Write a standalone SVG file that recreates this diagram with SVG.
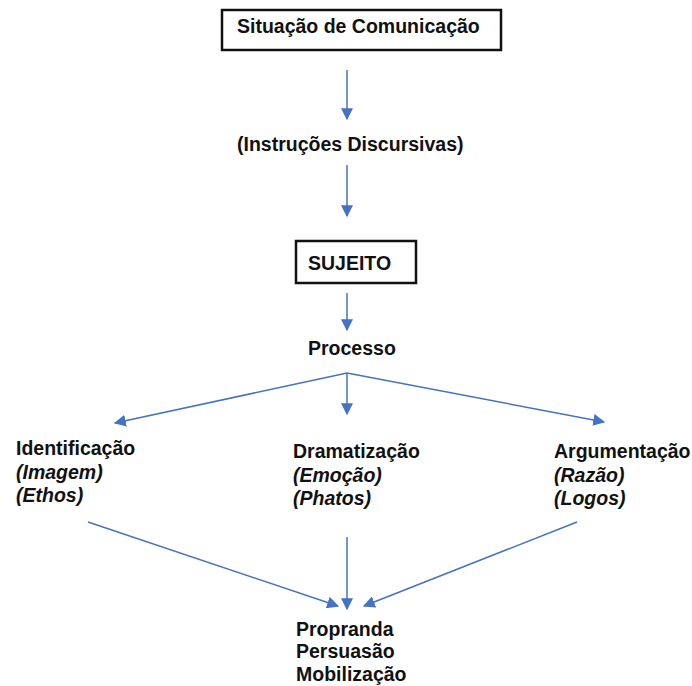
<svg xmlns="http://www.w3.org/2000/svg" width="692" height="686" viewBox="0 0 692 686">
<style>
text{font-family:"Liberation Sans",Arial,sans-serif;font-weight:bold;font-size:19.5px;fill:#111}
.i{font-style:italic}
.box{fill:#fff;stroke:#111;stroke-width:2.5}
.c{stroke:#4472C4;stroke-width:1.5;fill:none;marker-end:url(#ah)}
</style>
<defs>
<marker id="ah" viewBox="0 0 10 10" refX="9" refY="5" markerWidth="12" markerHeight="12" markerUnits="userSpaceOnUse" orient="auto">
<path d="M0,0L10,5L0,10z" fill="#4472C4"/>
</marker>
</defs>
<g id="connectors">
<line class="c" x1="347" y1="70" x2="347" y2="119"/>
<line class="c" x1="347" y1="165" x2="347" y2="216"/>
<line class="c" x1="347" y1="293" x2="347" y2="330"/>
<line class="c" x1="347" y1="373" x2="115" y2="423"/>
<line class="c" x1="347" y1="373" x2="347" y2="414"/>
<line class="c" x1="347" y1="373" x2="604" y2="422"/>
<line class="c" x1="88" y1="522" x2="338" y2="606"/>
<line class="c" x1="347" y1="537" x2="347" y2="609"/>
<line class="c" x1="577" y1="522" x2="364" y2="606"/>
</g>
<g id="situacao">
<rect class="box" x="222" y="10" width="279" height="40"/>
<text x="237" y="33">Situação de Comunicação</text>
</g>
<g id="instrucoes">
<text x="237" y="151">(Instruções Discursivas)</text>
</g>
<g id="sujeito">
<rect class="box" x="296" y="241" width="120" height="42"/>
<text x="308" y="270">SUJEITO</text>
</g>
<g id="processo">
<text x="308" y="355">Processo</text>
</g>
<g id="identificacao">
<text x="16" y="455">Identificação</text>
<text class="i" x="16" y="479">(Imagem)</text>
<text class="i" x="16" y="502">(Ethos)</text>
</g>
<g id="dramatizacao">
<text x="293" y="458">Dramatização</text>
<text class="i" x="293" y="482">(Emoção)</text>
<text class="i" x="293" y="505">(Phatos)</text>
</g>
<g id="argumentacao">
<text x="554" y="458">Argumentação</text>
<text class="i" x="554" y="482">(Razão)</text>
<text class="i" x="554" y="505">(Logos)</text>
</g>
<g id="resultado">
<text x="296" y="636">Propranda</text>
<text x="296" y="658">Persuasão</text>
<text x="296" y="681">Mobilização</text>
</g>
</svg>
